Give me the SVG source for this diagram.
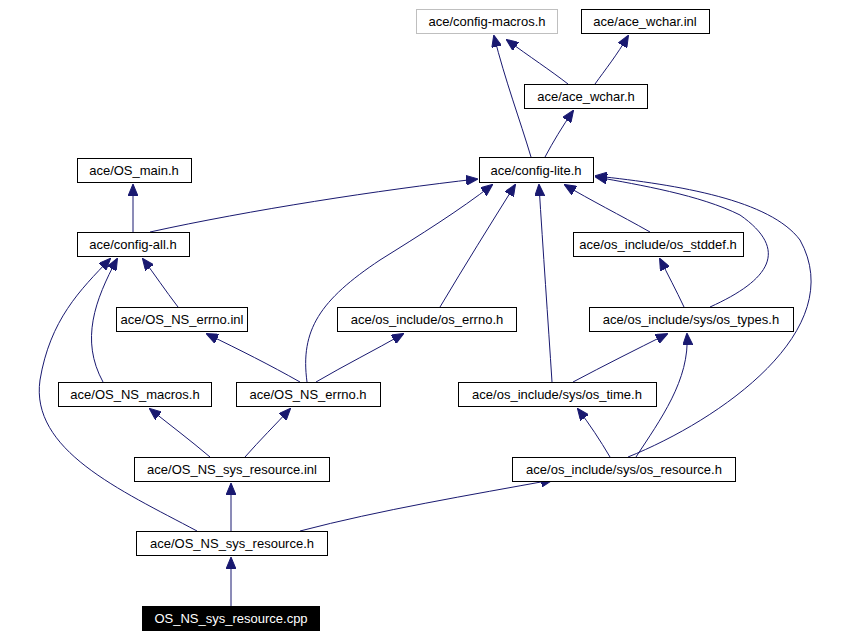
<svg xmlns="http://www.w3.org/2000/svg" width="865" height="637" viewBox="0 0 865 637">
<style>
.n rect{fill:#fff;stroke:#000;stroke-width:1}
.n text{font-family:"Liberation Sans",Arial,sans-serif;font-size:13px;text-anchor:middle;fill:#000}
#edges path{fill:none;stroke:#191970;stroke-width:1;marker-end:url(#a)}
</style>
<defs><marker id="a" markerWidth="12" markerHeight="10" refX="11" refY="5" orient="auto" markerUnits="userSpaceOnUse"><polygon points="0,0 12,5 0,10" fill="#191970" stroke="#191970"/></marker></defs>
<rect width="865" height="637" fill="#fff"/>
<g id="edges">
<path d="M531,157 C520,120 505,80 494,36"/>
<path d="M568,84 C550,70 530,57 507,40"/>
<path d="M595,84 C605,70 617,55 628,36"/>
<path d="M545,157 C553,142 562,127 573,111"/>
<path d="M150,232 C250,210 380,190 477,179"/>
<path d="M133,232 L133,185"/>
<path d="M178,307 C165,290 155,275 143,259"/>
<path d="M103,382 C80,340 95,300 117,259"/>
<path d="M197,531 C120,490 30,450 40,380 C50,320 80,290 110,259"/>
<path d="M300,382 C270,365 240,350 207,334"/>
<path d="M316,382 C345,365 375,350 403,334"/>
<path d="M307,382 C300,330 320,300 380,260 C420,235 460,210 492,185"/>
<path d="M440,307 C465,265 490,225 515,185"/>
<path d="M552,382 C548,320 543,250 539,185"/>
<path d="M650,232 C620,215 590,200 565,185"/>
<path d="M710,307 C770,280 790,250 740,215 C700,195 640,185 596,177"/>
<path d="M628,457 C720,420 850,330 800,240 C770,200 680,185 596,176"/>
<path d="M684,307 C676,290 668,275 660,259"/>
<path d="M573,382 C605,365 635,350 667,334"/>
<path d="M610,457 C600,440 590,425 578,409"/>
<path d="M636,457 C660,420 690,380 687,334"/>
<path d="M210,457 C190,440 170,425 150,409"/>
<path d="M245,457 C260,440 275,425 290,409"/>
<path d="M231,531 L231,484"/>
<path d="M300,531 C380,510 470,495 552,480"/>
<path d="M231,606 L231,558"/>
</g>
<g id="config-macros" class="n"><rect x="416.5" y="9.5" width="141" height="24" style="stroke:#bfbfbf"/><text x="487" y="26">ace/config-macros.h</text></g>
<g id="ace_wchar_inl" class="n"><rect x="581.5" y="9.5" width="128" height="24"/><text x="645" y="26">ace/ace_wchar.inl</text></g>
<g id="ace_wchar_h" class="n"><rect x="524.5" y="84.5" width="123" height="24"/><text x="586" y="101">ace/ace_wchar.h</text></g>
<g id="config-lite" class="n"><rect x="479.5" y="157.5" width="114" height="25"/><text x="536" y="175">ace/config-lite.h</text></g>
<g id="OS_main" class="n"><rect x="77.5" y="158.5" width="114" height="24"/><text x="134" y="175">ace/OS_main.h</text></g>
<g id="config-all" class="n"><rect x="77.5" y="232.5" width="112" height="24"/><text x="133" y="249">ace/config-all.h</text></g>
<g id="os_stddef" class="n"><rect x="573.5" y="232.5" width="170" height="24"/><text x="658" y="249">ace/os_include/os_stddef.h</text></g>
<g id="OS_NS_errno_inl" class="n"><rect x="116.5" y="307.5" width="131" height="24"/><text x="182" y="324">ace/OS_NS_errno.inl</text></g>
<g id="os_errno" class="n"><rect x="337.5" y="307.5" width="179" height="24"/><text x="427" y="324">ace/os_include/os_errno.h</text></g>
<g id="os_types" class="n"><rect x="589.5" y="307.5" width="204" height="24"/><text x="691" y="324">ace/os_include/sys/os_types.h</text></g>
<g id="OS_NS_macros" class="n"><rect x="58.5" y="382.5" width="153" height="24"/><text x="135" y="399">ace/OS_NS_macros.h</text></g>
<g id="OS_NS_errno_h" class="n"><rect x="236.5" y="382.5" width="144" height="24"/><text x="308" y="399">ace/OS_NS_errno.h</text></g>
<g id="os_time" class="n"><rect x="458.5" y="382.5" width="198" height="24"/><text x="557" y="399">ace/os_include/sys/os_time.h</text></g>
<g id="OS_NS_sys_resource_inl" class="n"><rect x="134.5" y="457.5" width="195" height="24"/><text x="232" y="474">ace/OS_NS_sys_resource.inl</text></g>
<g id="os_resource" class="n"><rect x="512.5" y="457.5" width="223" height="24"/><text x="624" y="474">ace/os_include/sys/os_resource.h</text></g>
<g id="OS_NS_sys_resource_h" class="n"><rect x="136.5" y="531.5" width="191" height="24"/><text x="232" y="548">ace/OS_NS_sys_resource.h</text></g>
<g id="cpp" class="n"><rect x="142.5" y="606.5" width="177" height="24" style="fill:#000"/><text x="231" y="623" style="fill:#fff">OS_NS_sys_resource.cpp</text></g>
</svg>
